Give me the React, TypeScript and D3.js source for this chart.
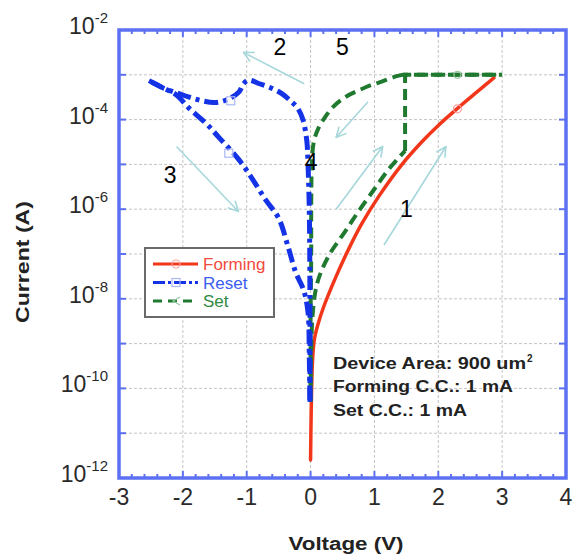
import React from 'react';
import * as d3 from 'd3';

// ---------- data (Voltage in V, log10 of Current in A) ----------
const xTickValues = [-3, -2, -1, 0, 1, 2, 3, 4];
const yLabelExps = [-2, -4, -6, -8, -10, -12];
const yGridExps = [-3, -4, -5, -6, -7, -8, -9, -10, -11];

const formingV = [0, 0.01, 0.03, 0.06, 0.12, 0.2, 0.4, 0.6, 0.8, 1.06, 1.42, 1.74, 2.0, 2.26, 2.55, 2.87];
const formingLogI = [-11.6, -10.5, -9.4, -8.9, -8.55, -8.2, -7.5, -6.88, -6.33, -5.73, -5.02, -4.5, -4.13, -3.8, -3.45, -3.07];

const resetFwdV = [-0.01, -0.01, -0.02, -0.04, -0.06, -0.12, -0.2, -0.3, -0.45, -0.61, -0.8, -0.97, -1.05, -1.12, -1.3, -1.5, -1.7, -1.9, -2.1, -2.3, -2.53];
const resetFwdLogI = [-10.3, -8.0, -6.0, -5.0, -4.46, -4.0, -3.75, -3.6, -3.42, -3.3, -3.2, -3.12, -3.2, -3.38, -3.55, -3.62, -3.58, -3.5, -3.4, -3.3, -3.13];
const resetRetV = [-2.53, -2.3, -2.1, -1.9, -1.64, -1.44, -1.12, -0.9, -0.7, -0.5, -0.35, -0.23, -0.11, -0.04, -0.02, -0.01];
const resetRetLogI = [-3.13, -3.3, -3.45, -3.75, -4.08, -4.39, -4.9, -5.35, -5.8, -6.2, -6.85, -7.42, -7.8, -8.3, -9.3, -10.3];

// set sweep: smooth rise, then compliance jump and plateau (last 3 points straight)
const setFwdV = [0.0, 0.01, 0.03, 0.08, 0.15, 0.3, 0.54, 0.75, 1.0, 1.2, 1.35, 1.48, 1.48, 3.0];
const setFwdLogI = [-10.3, -9.2, -8.4, -7.8, -7.45, -7.0, -6.5, -6.05, -5.55, -5.15, -4.9, -4.7, -3.0, -3.0];
// return sweep: plateau (first 2 points straight), then smooth decay
const setRetV = [3.0, 1.45, 1.35, 1.06, 0.95, 0.75, 0.54, 0.35, 0.23, 0.12, 0.05, 0.02, 0.01, 0.01, 0.0, 0.0];
const setRetLogI = [-3.0, -3.0, -3.03, -3.18, -3.23, -3.35, -3.5, -3.72, -3.94, -4.2, -4.5, -5.0, -6.0, -7.0, -8.5, -10.3];

// faint data markers
const formingMarkV = [2.3];
const formingMarkLogI = [-3.76];
const resetMarkV = [-1.25, -1.28];
const resetMarkLogI = [-3.58, -4.75];
const setMarkV = [2.3];
const setMarkLogI = [-3.0];

// annotation labels and arrows (in data coordinates: V, log10 I)
const stepLabels = ['1', '2', '3', '4', '5'];
const stepLabelV = [1.5, -0.48, -2.2, 0.01, 0.5];
const stepLabelLogI = [-6.0, -2.38, -5.24, -4.93, -2.38];
const arrowFromV = [1.15, -0.1, -2.1, 0.9, 0.4];
const arrowFromLogI = [-6.8, -3.2, -4.6, -3.6, -6.0];
const arrowToV = [2.12, -1.05, -1.13, 0.4, 1.13];
const arrowToLogI = [-4.6, -2.5, -6.05, -4.4, -4.6];

const legendNames = ['Forming', 'Reset', 'Set'];
const infoLines = ['Device Area: 900 um', 'Forming C.C.: 1 mA', 'Set C.C.: 1 mA'];

const zip = (a: number[], b: number[]) => a.map((v, i) => [v, b[i]] as [number, number]);

export default function App() {
  const x = d3.scaleLinear().domain([-3, 4]).range([119, 566]);
  const y = d3.scaleLog().domain([1e-12, 1e-2]).range([478, 30]);
  const yl = (e: number) => y(Math.pow(10, e));
  const line = d3
    .line<[number, number]>()
    .x((d) => x(d[0]))
    .y((d) => yl(d[1]))
    .curve(d3.curveCatmullRom.alpha(0.5));
  const lineStraight = d3
    .line<[number, number]>()
    .x((d) => x(d[0]))
    .y((d) => yl(d[1]));

  const setFwd = zip(setFwdV, setFwdLogI);
  const setRet = zip(setRetV, setRetLogI);
  const setFwdCurve = setFwd.slice(0, setFwd.length - 2);
  const setFwdStraight = setFwd.slice(setFwd.length - 3);
  const setRetStraight = setRet.slice(0, 2);
  const setRetCurve = setRet.slice(1);

  const left = x(-3), right = x(4), top = yl(-2), bottom = yl(-12);
  const frame = '#5c70f2';
  const font = 'Liberation Sans, Arial, sans-serif';
  const RED = '#f2361a', BLUE = '#1433e6', GREEN = '#1f7a30';
  const minorX = d3.range(-3, 4.0001, 0.2);
  const arrowColor = '#a6d7db';

  return (
    <svg width={575} height={559} style={{ position: 'absolute', left: 0, top: 0 }} fontFamily={font}>
      <defs>
        <marker id="ah" viewBox="0 0 12 12" refX="11" refY="6" markerWidth="12" markerHeight="12" markerUnits="userSpaceOnUse" orient="auto">
          <path d="M1,1 L11,6 L1,11" fill="none" stroke={arrowColor} strokeWidth={1.6} />
        </marker>
      </defs>
      <rect x={0} y={0} width={575} height={559} fill="#fff" />
      {/* grid */}
      {xTickValues.slice(1, -1).map((v) => (
        <line key={'gx' + v} x1={x(v)} x2={x(v)} y1={top} y2={bottom} stroke="#c4c4c4" strokeWidth={1} strokeDasharray="3,2" />
      ))}
      {yGridExps.map((e) => (
        <line key={'gy' + e} x1={left} x2={right} y1={yl(e)} y2={yl(e)} stroke="#c4c4c4" strokeWidth={1} strokeDasharray="3,2" />
      ))}
      {/* ticks */}
      {minorX.map((v, i) => {
        const major = Math.abs(v - Math.round(v)) < 1e-6;
        const len = major ? 7 : 4;
        return (
          <g key={'tx' + i}>
            <line x1={x(v)} x2={x(v)} y1={bottom} y2={bottom - len} stroke={frame} strokeWidth={2} />
            <line x1={x(v)} x2={x(v)} y1={top} y2={top + len} stroke={frame} strokeWidth={2} />
          </g>
        );
      })}
      {yGridExps.map((e) => (
        <g key={'ty' + e}>
          <line x1={left} x2={left + 7} y1={yl(e)} y2={yl(e)} stroke={frame} strokeWidth={2} />
          <line x1={right} x2={right - 7} y1={yl(e)} y2={yl(e)} stroke={frame} strokeWidth={2} />
        </g>
      ))}
      {/* curves */}
      <path d={line(zip(formingV, formingLogI)) || ''} fill="none" stroke={RED} strokeWidth={3.5} strokeLinecap="round" />
      <path d={line(setFwdCurve) || ''} fill="none" stroke={GREEN} strokeWidth={4} strokeDasharray="11,6" />
      <path d={lineStraight(setFwdStraight) || ''} fill="none" stroke={GREEN} strokeWidth={4} strokeDasharray="11,6" />
      <path d={lineStraight(setRetStraight) || ''} fill="none" stroke={GREEN} strokeWidth={4} strokeDasharray="11,6" strokeDashoffset={-6} />
      <path d={line(setRetCurve) || ''} fill="none" stroke={GREEN} strokeWidth={4} strokeDasharray="11,6" />
      <path d={line(zip(resetFwdV, resetFwdLogI)) || ''} fill="none" stroke={BLUE} strokeWidth={5} strokeDasharray="14,5,4,5" />
      <path d={line(zip(resetRetV, resetRetLogI)) || ''} fill="none" stroke={BLUE} strokeWidth={5} strokeDasharray="14,5,4,5" />
      {/* faint markers */}
      {formingMarkV.map((v, i) => (
        <circle key={'fm' + i} cx={x(v)} cy={yl(formingMarkLogI[i])} r={4} fill="none" stroke="#f7a0a0" strokeWidth={1.2} />
      ))}
      {resetMarkV.map((v, i) => (
        <rect key={'rm' + i} x={x(v) - 4} y={yl(resetMarkLogI[i]) - 4} width={8} height={8} fill="none" stroke="#aab6f5" strokeWidth={1.2} />
      ))}
      {setMarkV.map((v, i) => (
        <circle key={'sm' + i} cx={x(v)} cy={yl(setMarkLogI[i])} r={3.5} fill="none" stroke="#9cc8a4" strokeWidth={1.2} />
      ))}
      {/* arrows */}
      {arrowFromV.map((v, i) => (
        <line key={'ar' + i} x1={x(v)} y1={yl(arrowFromLogI[i])} x2={x(arrowToV[i])} y2={yl(arrowToLogI[i])} stroke={arrowColor} strokeWidth={1.6} markerEnd="url(#ah)" />
      ))}
      {stepLabels.map((s, i) => (
        <text key={'sl' + i} x={x(stepLabelV[i])} y={yl(stepLabelLogI[i])} dy="0.36em" textAnchor="middle" fontSize={23} fill="#000">
          {s}
        </text>
      ))}
      {/* frame */}
      <rect x={left} y={top} width={right - left} height={bottom - top} fill="none" stroke={frame} strokeWidth={3.5} />
      {/* y tick labels */}
      {yLabelExps.map((e) => (
        <text key={'yl' + e} x={108} y={yl(e) + 4} textAnchor="end" fontSize={23} fill="#2a2a2a">
          <tspan>10</tspan>
          <tspan dy={-11} fontSize={15}>{String(e)}</tspan>
        </text>
      ))}
      {/* x tick labels */}
      {xTickValues.map((v) => (
        <text key={'xl' + v} x={x(v)} y={505} textAnchor="middle" fontSize={23} fill="#2a2a2a">
          {String(v)}
        </text>
      ))}
      {/* axis titles */}
      <text x={346} y={550} textAnchor="middle" fontSize={18} fontWeight="bold" fill="#222" textLength={115} lengthAdjust="spacingAndGlyphs">
        Voltage (V)
      </text>
      <text transform="translate(29,262) rotate(-90)" textAnchor="middle" fontSize={18} fontWeight="bold" fill="#222" textLength={122} lengthAdjust="spacingAndGlyphs">
        Current (A)
      </text>
      {/* legend */}
      <g>
        <rect x={145} y={248} width={129} height={69} fill="#fff" stroke="#6a6a6a" strokeWidth={2} />
        {legendNames.map((n, i) => {
          const cy = 264 + i * 18.5;
          const col = [RED, BLUE, GREEN][i];
          const txtCol = ['#f24a3c', '#3d5cf0', '#2f8a40'][i];
          const dash = ['', '12,3,3,3', '9,6'][i];
          return (
            <g key={'lg' + i}>
              <line x1={153} x2={198} y1={cy} y2={cy} stroke={col} strokeWidth={3} strokeDasharray={dash} />
              {i === 0 && <circle cx={176} cy={cy} r={4} fill="none" stroke="#f7a0a0" strokeWidth={1.2} />}
              {i === 1 && <rect x={172} y={cy - 4} width={8} height={8} fill="none" stroke="#aab6f5" strokeWidth={1.2} />}
              {i === 2 && <path d={`M180,${cy - 4} L173,${cy} L180,${cy + 4}`} fill="none" stroke="#9cc8a4" strokeWidth={1.2} />}
              <text x={203} y={cy + 6} fontSize={17} fill={txtCol}>
                {n}
              </text>
            </g>
          );
        })}
      </g>
      {/* info text */}
      <text x={333} y={369} fontSize={16} fontWeight="bold" fill="#222" textLength={193} lengthAdjust="spacingAndGlyphs">
        {infoLines[0]}
      </text>
      <text x={527} y={362} fontSize={10} fontWeight="bold" fill="#222">2</text>
      <text x={333} y={392} fontSize={16} fontWeight="bold" fill="#222" textLength={180} lengthAdjust="spacingAndGlyphs">
        {infoLines[1]}
      </text>
      <text x={333} y={416} fontSize={16} fontWeight="bold" fill="#222" textLength={134} lengthAdjust="spacingAndGlyphs">
        {infoLines[2]}
      </text>
    </svg>
  );
}
